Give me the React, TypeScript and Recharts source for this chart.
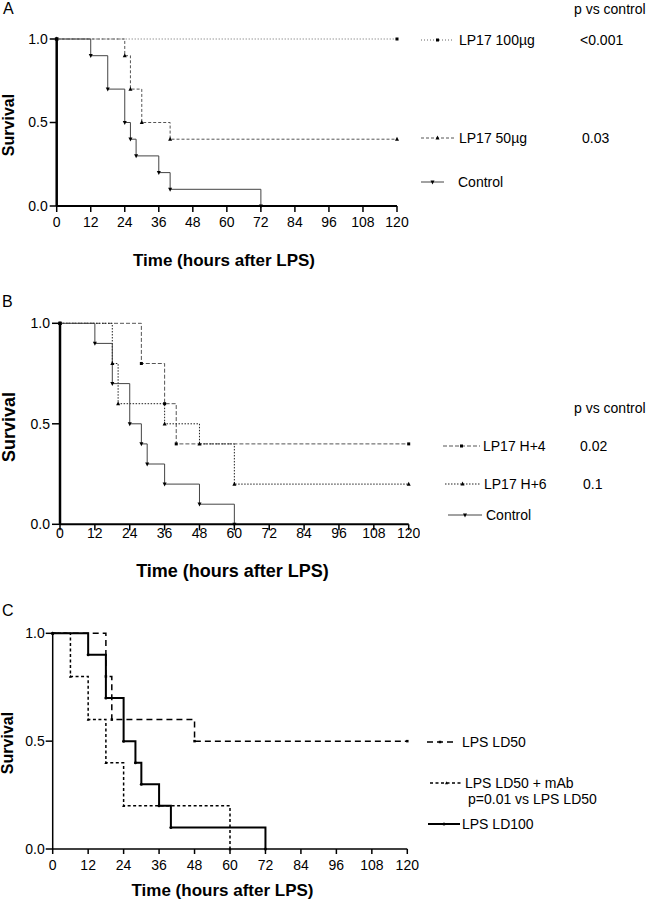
import React from 'react';
import { LineChart, Line, XAxis, YAxis } from 'recharts';

const FONT = '"Liberation Sans", Arial, Helvetica, sans-serif';

// Shared axis ticks
const timeTicks = [0, 12, 24, 36, 48, 60, 72, 84, 96, 108, 120];
const survivalTicks = [0, 0.5, 1];

// Panel A
const aLP17_100Times = [0, 120];
const aLP17_100Surv = [1, 1];
const aLP17_50Times = [0, 24, 26, 30, 40, 120];
const aLP17_50Surv = [1, 0.9, 0.7, 0.5, 0.4, 0.4];
const aControlTimes = [0, 12, 18, 24, 26, 28, 36, 40, 72];
const aControlSurv = [1, 0.9, 0.7, 0.5, 0.4, 0.3, 0.2, 0.1, 0];

// Panel B
const bH4Times = [0, 28, 36, 40, 120];
const bH4Surv = [1, 0.8, 0.6, 0.4, 0.4];
const bH6Times = [0, 18, 20, 36, 48, 60, 120];
const bH6Surv = [1, 0.8, 0.6, 0.5, 0.4, 0.2, 0.2];
const bControlTimes = [0, 12, 18, 24, 28, 30, 36, 48, 60];
const bControlSurv = [1, 0.9, 0.7, 0.5, 0.4, 0.3, 0.2, 0.1, 0];

// Panel C
const cLD50Times = [0, 18, 20, 48, 120];
const cLD50Surv = [1, 0.8, 0.6, 0.5, 0.5];
const cMAbTimes = [0, 6, 12, 18, 24, 60];
const cMAbSurv = [1, 0.8, 0.6, 0.4, 0.2, 0];
const cLD100Times = [0, 12, 18, 24, 28, 30, 36, 40, 72];
const cLD100Surv = [1, 0.9, 0.7, 0.5, 0.4, 0.3, 0.2, 0.1, 0];

const toRows = (times: number[], surv: number[]) => times.map((t, i) => ({ t, s: surv[i] }));

type Shape = 'square' | 'up' | 'down' | 'circle' | 'none';

function drawMarker(shape: Shape, cx: number, cy: number, h: number, color: string, key?: string) {
  if (shape === 'square')
    return <rect key={key} x={cx - h / 2} y={cy - h / 2} width={h} height={h} fill={color} />;
  if (shape === 'up')
    return (
      <polygon key={key} points={`${cx},${cy - h * 0.6} ${cx - h / 2},${cy + h * 0.4} ${cx + h / 2},${cy + h * 0.4}`} fill={color} />
    );
  if (shape === 'down')
    return (
      <polygon key={key} points={`${cx},${cy + h * 0.6} ${cx - h / 2},${cy - h * 0.4} ${cx + h / 2},${cy - h * 0.4}`} fill={color} />
    );
  if (shape === 'circle') return <circle key={key} cx={cx} cy={cy} r={h / 2} fill={color} />;
  return <g key={key} />;
}

function makeDot(shape: Shape, size: number, color: string) {
  return (props: any) => {
    const { cx, cy, index } = props;
    const k = `d-${index}`;
    if (cx == null || cy == null) return <g key={k} />;
    return drawMarker(shape, cx, cy, size, color, k);
  };
}

type Series = {
  name: string;
  times: number[];
  surv: number[];
  stroke: string;
  width: number;
  dash?: string;
  shape: Shape;
  size: number;
};

type PanelProps = {
  top: number;
  height: number;
  plot: { left: number; right: number; top: number; bottom: number };
  series: Series[];
  axisWidth: number;
  yAxisWidth: number;
  xTickSize: number;
  xTickMargin: number;
  yTickSize: number;
  yTickMargin: number;
};

function KMPanel(p: PanelProps) {
  const W = 420;
  const YW = 50;
  const XH = 30;
  const margin = {
    top: p.plot.top - p.top,
    left: p.plot.left - YW,
    right: W - p.plot.right,
    bottom: p.top + p.height - p.plot.bottom - XH,
  };
  const tickStyle = { fill: '#000', fontSize: 14, fontFamily: FONT };
  return (
    <div style={{ position: 'absolute', left: 0, top: p.top, width: W, height: p.height }}>
      <LineChart width={W} height={p.height} margin={margin}>
        <XAxis
          type="number"
          dataKey="t"
          domain={[0, 120]}
          ticks={timeTicks}
          interval={0}
          allowDuplicatedCategory={false}
          height={XH}
          axisLine={{ stroke: '#000', strokeWidth: p.axisWidth }}
          tickLine={{ stroke: '#000', strokeWidth: 1.5 }}
          tickSize={p.xTickSize}
          tickMargin={p.xTickMargin}
          tick={tickStyle}
        />
        <YAxis
          type="number"
          domain={[0, 1]}
          ticks={survivalTicks}
          interval={0}
          width={YW}
          tickFormatter={(v: number) => v.toFixed(1)}
          axisLine={{ stroke: '#000', strokeWidth: p.yAxisWidth }}
          tickLine={{ stroke: '#000', strokeWidth: 1.5 }}
          tickSize={p.yTickSize}
          tickMargin={p.yTickMargin}
          tick={tickStyle}
        />
        {p.series.map((s) => (
          <Line
            key={s.name}
            name={s.name}
            data={toRows(s.times, s.surv)}
            dataKey="s"
            type="stepAfter"
            stroke={s.stroke}
            strokeWidth={s.width}
            strokeDasharray={s.dash}
            dot={makeDot(s.shape, s.size, '#000')}
            activeDot={false}
            isAnimationActive={false}
          />
        ))}
      </LineChart>
    </div>
  );
}

function Txt({ x, cy, size = 14, bold = false, center = false, children }: any) {
  return (
    <div
      style={{
        position: 'absolute',
        left: x,
        top: cy - size / 2,
        fontSize: size,
        lineHeight: `${size}px`,
        fontWeight: bold ? 'bold' : 'normal',
        fontFamily: FONT,
        whiteSpace: 'nowrap',
        color: '#000',
        transform: center ? 'translateX(-50%)' : undefined,
      }}
    >
      {children}
    </div>
  );
}

function VTxt({ cx, cy, size = 16, children }: any) {
  return (
    <div
      style={{
        position: 'absolute',
        left: cx,
        top: cy,
        fontSize: size,
        lineHeight: `${size}px`,
        fontWeight: 'bold',
        fontFamily: FONT,
        whiteSpace: 'nowrap',
        color: '#000',
        transform: 'translate(-50%, -50%) rotate(-90deg)',
      }}
    >
      {children}
    </div>
  );
}

function Sample({ x1, x2, cy, s }: { x1: number; x2: number; cy: number; s: Series }) {
  const w = x2 - x1;
  return (
    <svg style={{ position: 'absolute', left: x1, top: cy - 6 }} width={w} height={12}>
      <line x1={0} y1={6} x2={w} y2={6} stroke={s.stroke} strokeWidth={s.width} strokeDasharray={s.dash} />
      {drawMarker(s.shape, w / 2, 6, s.size, '#000')}
    </svg>
  );
}

const seriesA: Series[] = [
  { name: 'LP17 100µg', times: aLP17_100Times, surv: aLP17_100Surv, stroke: '#666', width: 1, dash: '1 2', shape: 'square', size: 3 },
  { name: 'LP17 50µg', times: aLP17_50Times, surv: aLP17_50Surv, stroke: '#555', width: 1, dash: '3 2', shape: 'up', size: 4 },
  { name: 'Control', times: aControlTimes, surv: aControlSurv, stroke: '#444', width: 1, shape: 'down', size: 4 },
];

const seriesB: Series[] = [
  { name: 'LP17 H+4', times: bH4Times, surv: bH4Surv, stroke: '#555', width: 1, dash: '4 2', shape: 'square', size: 3 },
  { name: 'LP17 H+6', times: bH6Times, surv: bH6Surv, stroke: '#222', width: 1, dash: '1.5 1.5', shape: 'up', size: 4 },
  { name: 'Control', times: bControlTimes, surv: bControlSurv, stroke: '#444', width: 1, shape: 'down', size: 4 },
];

const seriesC: Series[] = [
  { name: 'LPS LD50', times: cLD50Times, surv: cLD50Surv, stroke: '#000', width: 1.5, dash: '6 4', shape: 'square', size: 2.5 },
  { name: 'LPS LD50 + mAb', times: cMAbTimes, surv: cMAbSurv, stroke: '#000', width: 1.5, dash: '3 2.5', shape: 'up', size: 3 },
  { name: 'LPS LD100', times: cLD100Times, surv: cLD100Surv, stroke: '#000', width: 2, shape: 'circle', size: 3 },
];

export default function App() {
  return (
    <div style={{ position: 'absolute', left: 0, top: 0, width: 649, height: 900, background: '#fff', overflow: 'hidden' }}>
      {/* Panel A */}
      <Txt x={3} cy={8.5} size={16}>A</Txt>
      <KMPanel
        top={0}
        height={250}
        plot={{ left: 56.7, right: 397, top: 39, bottom: 206 }}
        series={seriesA}
        axisWidth={2}
        yAxisWidth={2.5}
        xTickSize={6}
        xTickMargin={5}
        yTickSize={7}
        yTickMargin={2}
      />
      <VTxt cx={8.5} cy={125} size={16}>Survival</VTxt>
      <Txt x={224} cy={260} size={17} bold center>Time (hours after LPS)</Txt>
      <Txt x={574} cy={9}>p vs control</Txt>
      <Sample x1={421} x2={454} cy={40} s={seriesA[0]} />
      <Txt x={459} cy={40}>LP17 100µg</Txt>
      <Txt x={580} cy={40}>&lt;0.001</Txt>
      <Sample x1={421} x2={454} cy={138} s={seriesA[1]} />
      <Txt x={459} cy={138}>LP17 50µg</Txt>
      <Txt x={582} cy={138}>0.03</Txt>
      <Sample x1={421} x2={444} cy={182} s={seriesA[2]} />
      <Txt x={458} cy={182}>Control</Txt>

      {/* Panel B */}
      <Txt x={2} cy={301.5} size={16}>B</Txt>
      <KMPanel
        top={290}
        height={270}
        plot={{ left: 60, right: 408.7, top: 323.3, bottom: 524.3 }}
        series={seriesB}
        axisWidth={2}
        yAxisWidth={2.5}
        xTickSize={6}
        xTickMargin={-2}
        yTickSize={8}
        yTickMargin={2}
      />
      <VTxt cx={9} cy={427} size={18}>Survival</VTxt>
      <Txt x={232.5} cy={570.5} size={18} bold center>Time (hours after LPS)</Txt>
      <Txt x={574} cy={408}>p vs control</Txt>
      <Sample x1={443} x2={480} cy={446} s={seriesB[0]} />
      <Txt x={483} cy={446}>LP17 H+4</Txt>
      <Txt x={580} cy={446}>0.02</Txt>
      <Sample x1={445} x2={480} cy={484} s={seriesB[1]} />
      <Txt x={484} cy={484}>LP17 H+6</Txt>
      <Txt x={583} cy={484}>0.1</Txt>
      <Sample x1={448} x2={482} cy={515} s={seriesB[2]} />
      <Txt x={486} cy={515}>Control</Txt>

      {/* Panel C */}
      <Txt x={2} cy={610.5} size={16}>C</Txt>
      <KMPanel
        top={600}
        height={280}
        plot={{ left: 52.7, right: 407.3, top: 633.3, bottom: 849 }}
        series={seriesC}
        axisWidth={1.5}
        yAxisWidth={1.5}
        xTickSize={5}
        xTickMargin={6}
        yTickSize={7}
        yTickMargin={1}
      />
      <VTxt cx={7.5} cy={743} size={16}>Survival</VTxt>
      <Txt x={222.5} cy={890.5} size={17} bold center>Time (hours after LPS)</Txt>
      <Sample x1={427} x2={453} cy={742} s={seriesC[0]} />
      <Txt x={462} cy={742}>LPS LD50</Txt>
      <Sample x1={430} x2={463} cy={783} s={seriesC[1]} />
      <Txt x={465} cy={783}>LPS LD50 + mAb</Txt>
      <Txt x={468} cy={799}>p=0.01 vs LPS LD50</Txt>
      <Sample x1={428} x2={460} cy={824} s={seriesC[2]} />
      <Txt x={462} cy={824}>LPS LD100</Txt>
    </div>
  );
}
